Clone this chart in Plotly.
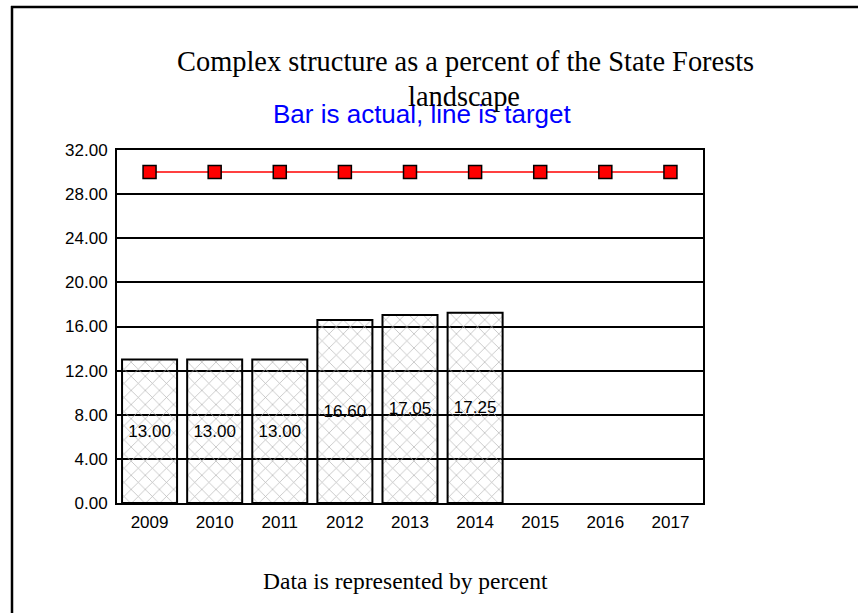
import plotly.graph_objects as go

years = ["2009", "2010", "2011", "2012", "2013", "2014", "2015", "2016", "2017"]
actual = [13.00, 13.00, 13.00, 16.60, 17.05, 17.25, None, None, None]
target = [30, 30, 30, 30, 30, 30, 30, 30, 30]
y_ticks = [0, 4, 8, 12, 16, 20, 24, 28, 32]

W, H = 858, 613
L, R, T, B = 117, 155, 150, 110
pw, ph = W - L - R, H - T - B

def px(x):
    return (x - L) / pw

def py(y):
    return (H - B - y) / ph

fig = go.Figure()
fig.add_trace(go.Bar(
    x=years, y=actual,
    marker=dict(
        color="rgba(0,0,0,0)",
        line=dict(color="black", width=2),
        pattern=dict(shape="x", fgcolor="#b8b8b8", bgcolor="rgba(255,255,255,0)",
                     size=10, solidity=0.14, fillmode="replace"),
    ),
    text=[f"{v:.2f}" if v is not None else "" for v in actual],
    textposition="inside", insidetextanchor="middle",
    textfont=dict(family="Liberation Sans, Arial", size=17, color="black"),
    constraintext="none",
    showlegend=False,
))
fig.add_trace(go.Scatter(
    x=years, y=target, mode="lines+markers",
    line=dict(color="red", width=1.6),
    marker=dict(symbol="square", size=13, color="red", line=dict(color="black", width=1.5)),
    showlegend=False,
))

fig.update_layout(
    width=W, height=H,
    margin=dict(l=L, r=R, t=T, b=B),
    paper_bgcolor="white", plot_bgcolor="white",
    bargap=0.155,
    font=dict(family="Liberation Sans, Arial", size=17, color="black"),
    xaxis=dict(
        type="category", range=[-0.5, len(years) - 0.5],
        showline=True, linecolor="black", linewidth=2, mirror=True,
        showgrid=False, ticks="", tickfont=dict(size=17), ticklabelstandoff=3,
    ),
    yaxis=dict(
        range=[0, 32], tickvals=y_ticks, tickformat=".2f",
        showline=True, linecolor="black", linewidth=2, mirror=True,
        showgrid=True, gridcolor="black", gridwidth=1.8, zeroline=False,
        ticks="", ticklabelstandoff=4, tickfont=dict(size=17),
    ),
    annotations=[
        dict(text="Bar is actual, line is target", xref="paper", yref="paper",
             x=px(422), y=py(114), xanchor="center", yanchor="middle", showarrow=False,
             font=dict(family="Liberation Sans, Arial", size=26, color="blue")),
        dict(text="Complex structure as a percent of the State Forests", xref="paper", yref="paper",
             x=px(465), y=py(61), xanchor="center", yanchor="middle", showarrow=False,
             font=dict(family="Liberation Serif, Times New Roman", size=28.4, color="black")),
        dict(text="landscape", xref="paper", yref="paper",
             x=px(464), y=py(97), xanchor="center", yanchor="middle", showarrow=False,
             font=dict(family="Liberation Serif, Times New Roman", size=28.4, color="black")),
        dict(text="Data is represented by percent", xref="paper", yref="paper",
             x=px(405), y=py(581), xanchor="center", yanchor="middle", showarrow=False,
             font=dict(family="Liberation Serif, Times New Roman", size=23.5, color="black")),
    ],
    shapes=[
        dict(type="line", xref="paper", yref="paper", x0=px(11), x1=px(900), y0=py(7), y1=py(7),
             line=dict(color="black", width=2.5)),
        dict(type="line", xref="paper", yref="paper", x0=px(12), x1=px(12), y0=py(6), y1=py(650),
             line=dict(color="black", width=2.5)),
    ],
)

fig.write_html("out.html", config={"displayModeBar": False},
               post_script="document.body.style.margin='0';")
